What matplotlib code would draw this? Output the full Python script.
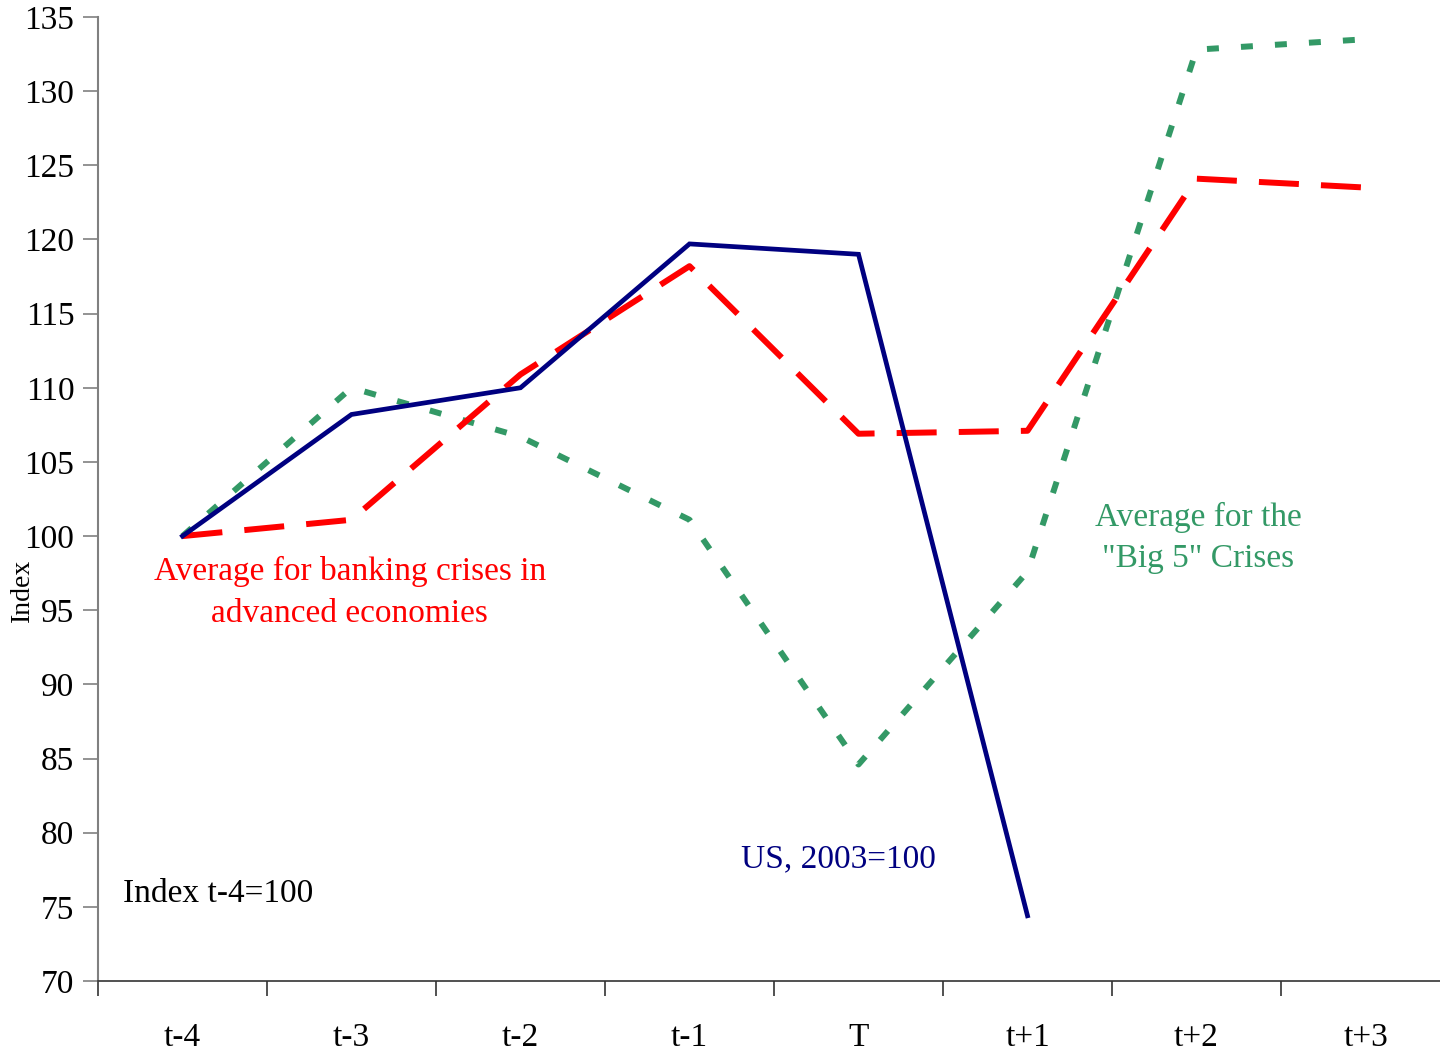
import numpy as np
import matplotlib.pyplot as plt
from matplotlib.ticker import FixedLocator

plt.rcParams['font.family'] = ['Liberation Serif', 'DejaVu Serif']

# 数据
periods = ['t-4', 't-3', 't-2', 't-1', 'T', 't+1', 't+2', 't+3']
us_2003 = [100, 108.2, 110.0, 119.7, 119.0, 74.4]
banking_avg = [100, 101.1, 110.9, 118.2, 106.9, 107.1, 124.1, 123.5]
big5_avg = [100, 110.0, 106.7, 101.1, 84.6, 97.6, 132.8, 133.5]

NAVY = '#000080'
RED = '#ff0000'
GREEN = '#339966'

fig = plt.figure(figsize=(14.4, 10.53), dpi=100)
ax = fig.add_axes([98 / 1440, 72 / 1053, 1352 / 1440, 964 / 1053])

x = np.arange(len(periods))
ax.plot(x, big5_avg, color=GREEN, lw=4.3, dashes=(2.0, 3.7))
ax.plot(x, banking_avg, color=RED, lw=4.3, dashes=(6.7, 3.7))
ax.plot(x[:len(us_2003)], us_2003, color=NAVY, lw=3.4, solid_joinstyle='miter')

ax.set_xlim(-0.5, len(periods) - 0.5)
ax.set_ylim(70, 135)
ax.set_yticks(np.arange(70, 136, 5))
ax.tick_params(axis='y', labelsize=24, length=11, width=1.2, color='#808080', pad=6)

ax.set_xticks(x)
ax.set_xticklabels(periods)
ax.xaxis.set_minor_locator(FixedLocator(np.arange(-0.5, len(periods), 1.0)))
ax.tick_params(axis='x', which='major', length=0, labelsize=24, pad=30)
ax.tick_params(axis='x', which='minor', length=11, width=1.2, color='#333333')

for side in ['top', 'right']:
    ax.spines[side].set_visible(False)
ax.spines['left'].set_color('#808080')
ax.spines['left'].set_linewidth(1.5)
ax.spines['bottom'].set_color('#333333')
ax.spines['bottom'].set_linewidth(1.2)

fig.text(22 / 1440, 1 - 590 / 1053, 'Index', rotation=90, fontsize=20,
         ha='center', va='center')

ax.text(0.99, 96.2, 'Average for banking crises in\nadvanced economies', color=RED,
        fontsize=24, ha='center', va='center', linespacing=1.45)
ax.text(6.01, 99.9, 'Average for the\n"Big 5" Crises', color=GREEN,
        fontsize=24, ha='center', va='center', linespacing=1.45)
ax.text(3.88, 78.2, 'US, 2003=100', color=NAVY, fontsize=24, ha='center', va='center')
ax.text(-0.355, 75.9, 'Index t-4=100', color='black', fontsize=24, ha='left', va='center')

fig.savefig('out.png', dpi=100)
